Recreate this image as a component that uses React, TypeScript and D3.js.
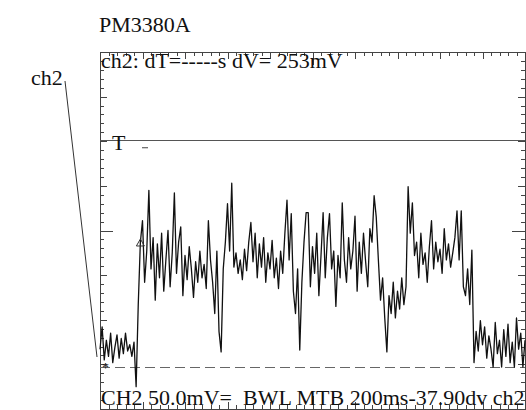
import * as d3 from "d3";

// scope settings
const title = "PM3380A";
const channelLabel = "ch2";
const cursorText = "ch2: dT=-----s dV= 253mV";
const statusText = "CH2 50.0mV=  BWL MTB 200ms-37.90dv ch2";

const timePerDiv = 200; // ms
const voltsPerDiv = 50; // mV
const sampleStep = 10; // ms
const groundDiv = 0.94; // ground marker, divisions above the bottom edge
const triggerDiv = 6.0; // T level, divisions above the bottom edge
const cursorMark = { t: 190, v: 139 }; // triangle cursor on the trace

// ch2 trace, mV above ground, one value every 10 ms
const trace = [
  20, 45, 8, 30, 12, 38, 5, 22, 36, 10, 32, 15, 38, 18, 25, 12, 28, -22, 70, 140,
  164, 95, 130, 198, 110, 145, 75, 138, 100, 150, 85, 120, 153, 90, 128, 195, 105, 140, 157, 80,
  125, 98, 135, 110, 78, 118, 95, 130, 100, 115, 88, 164, 120, 95, 60, 130, 40, 17, 110, 140,
  183, 130, 206, 112, 128, 105, 120, 98, 132, 108, 140, 162, 118, 150, 100, 138, 112, 145, 95, 128,
  110, 142, 100, 122, 88, 130, 105, 150, 187, 120, 172, 85, 60, 110, 19, 95, 140, 173, 173, 90,
  135, 105, 150, 80, 125, 173, 100, 145, 172, 110, 130, 68, 125, 100, 184, 120, 95, 145, 110, 130,
  169, 85, 140, 105, 150, 118, 90, 155, 140, 192, 168, 120, 75, 100, 55, 17, 80, 60, 95, 55,
  85, 65, 100, 70, 90, 202, 150, 184, 125, 140, 100, 150, 115, 128, 95, 135, 164, 110, 140, 118,
  132, 105, 155, 120, 138, 112, 128, 145, 175, 120, 175, 90, 80, 110, 70, 131, 5, 40, 18, 52,
  25, 45, 10, 35, 20, 0, 50, 15, 30, 0, 42, 12, 48, 5, 28, 0, 55, 20, 38, 0,
  30,
];

const W = 526;
const H = 410;
const frame = { left: 100, top: 52, right: 525, bottom: 409 };
const font = "'Liberation Serif', 'Times New Roman', serif";

export default function App() {
  const x = d3
    .scaleLinear()
    .domain([0, 10 * timePerDiv])
    .range([frame.left, frame.right]);
  const yDiv = d3.scaleLinear().domain([0, 8]).range([frame.bottom, frame.top]);
  const y = d3
    .scaleLinear()
    .domain([-groundDiv * voltsPerDiv, (8 - groundDiv) * voltsPerDiv])
    .range([frame.bottom, frame.top]);

  const line = d3
    .line<number>()
    .x((_, i) => x(i * sampleStep))
    .y((d) => y(d));

  const xMinor = d3.range(0, 51).map((k) => k * (timePerDiv / 5));
  const yMinor = d3.range(0, 41).map((k) => k / 5);

  const tickLen = (k: number, centre: number) =>
    k === centre ? 13 : k % 5 === 0 ? 7 : 4;

  const yG = y(0);
  const yT = yDiv(triggerDiv);
  const cx = x(cursorMark.t);
  const cy = y(cursorMark.v);

  return (
    <div style={{ position: "absolute", left: 0, top: 0, width: W, height: H, overflow: "hidden" }}>
      <svg width={W} height={H} style={{ display: "block", background: "#fff", whiteSpace: "pre" }} fontFamily={font}>
        <text x={99} y={32} fontSize={22} fill="#111">
          {title}
        </text>
        <text x={31} y={85} fontSize={22} fill="#111">
          {channelLabel}
        </text>
        <line x1={65} y1={81} x2={97} y2={357} stroke="#333" strokeWidth={1} />

        {/* graticule border */}
        <rect
          x={frame.left + 0.5}
          y={frame.top + 0.5}
          width={frame.right - frame.left}
          height={frame.bottom - frame.top}
          fill="none"
          stroke="#444"
        />
        {xMinor.map((t, k) => {
          const px = Math.round(x(t)) + 0.5;
          const len = tickLen(k, 25);
          return (
            <g key={"xt" + k} stroke="#444">
              <line x1={px} x2={px} y1={frame.top} y2={frame.top + len} />
              <line x1={px} x2={px} y1={frame.bottom} y2={frame.bottom - len} />
            </g>
          );
        })}
        {yMinor.map((d, k) => {
          const py = Math.round(yDiv(d)) + 0.5;
          const len = tickLen(k, 20);
          return (
            <g key={"yt" + k} stroke="#444">
              <line x1={frame.left} x2={frame.left + len} y1={py} y2={py} />
              <line x1={frame.right} x2={frame.right - len} y1={py} y2={py} />
            </g>
          );
        })}

        {/* trigger level */}
        <line x1={frame.left} x2={frame.right} y1={Math.round(yT) - 0.5} y2={Math.round(yT) - 0.5} stroke="#555" />
        <text x={112} y={yT + 9} fontSize={22} fill="#111">
          T
        </text>
        <line x1={142} x2={148} y1={yT + 6.5} y2={yT + 6.5} stroke="#444" />

        {/* ground reference */}
        <line
          x1={frame.left}
          x2={frame.right}
          y1={Math.round(yG) + 0.5}
          y2={Math.round(yG) + 0.5}
          stroke="#666"
          strokeDasharray="10 5"
        />

        <path d={line(trace) ?? ""} fill="none" stroke="#111" strokeWidth={1.3} strokeLinejoin="round" />

        {/* cursor markers */}
        <path d={`M${cx - 4},${cy + 3} l4,-7 l4,7 z`} fill="none" stroke="#333" />
        <text x={102} y={yG + 6} fontSize={14} fill="#111">
          *
        </text>

        <text x={101} y={68} fontSize={22} fill="#111" xmlSpace="preserve">
          {cursorText}
        </text>
        <text x={101} y={405} fontSize={22} fill="#111" xmlSpace="preserve">
          {statusText}
        </text>
      </svg>
    </div>
  );
}
